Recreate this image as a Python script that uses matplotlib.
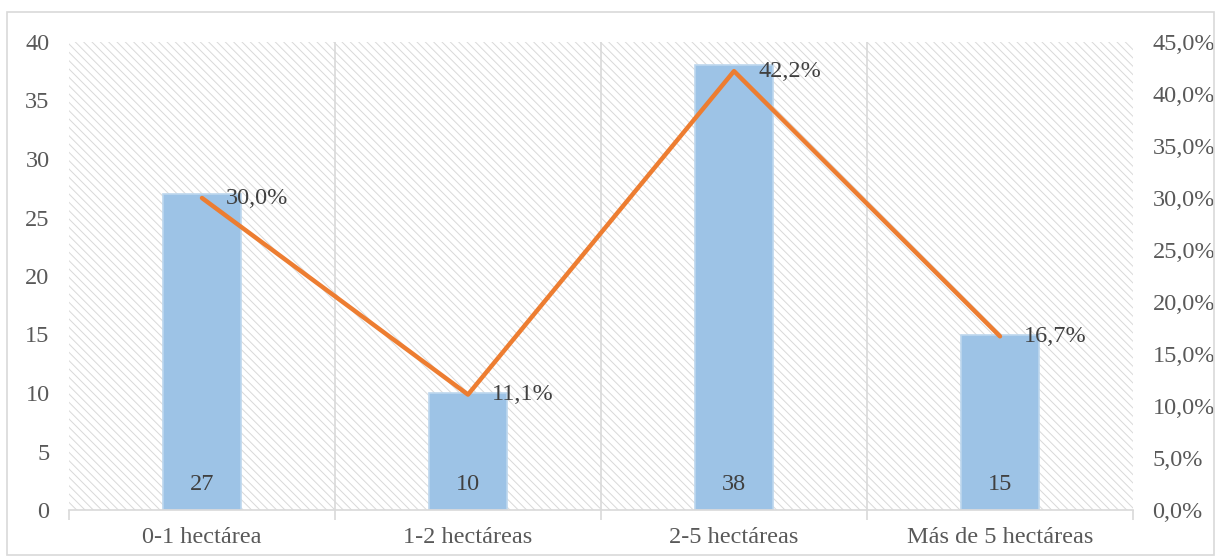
import matplotlib
matplotlib.use("Agg")
import matplotlib.pyplot as plt
from matplotlib.patches import Rectangle
from matplotlib.ticker import FixedLocator

categories = ["0-1 hectárea", "1-2 hectáreas", "2-5 hectáreas", "Más de 5 hectáreas"]
counts = [27, 10, 38, 15]
percents = [30.0, 11.1, 42.2, 16.7]
left_ticks = [0, 5, 10, 15, 20, 25, 30, 35, 40]
right_ticks = [0, 5, 10, 15, 20, 25, 30, 35, 40, 45]

plt.rcParams["font.family"] = ["Liberation Serif", "DejaVu Serif"]
plt.rcParams["hatch.color"] = "#D9D9D9"
plt.rcParams["hatch.linewidth"] = 0.7

W, H = 1219, 558
fig = plt.figure(figsize=(W / 100, H / 100), dpi=100)
fig.patch.set_facecolor("white")

# outer chart frame
fig.add_artist(Rectangle((7 / W, 3 / H), 1207 / W, 543 / H, transform=fig.transFigure,
                         fill=False, edgecolor="#D9D9D9", linewidth=1.2))

ax = fig.add_axes([69 / W, 1 - 510 / H, 1064 / W, 468 / H])
ax.set_xlim(-0.5, len(categories) - 0.5)
ax.set_ylim(0, 40)

# hatched plot-area background
ax.add_patch(Rectangle((0, 0), 1, 1, transform=ax.transAxes, facecolor="white",
                       edgecolor="#D9D9D9", hatch="\\\\\\\\", linewidth=0, zorder=0))

x = list(range(len(categories)))
ax.bar(x, counts, width=0.29, color="#9DC3E6", edgecolor="#BDD7EE", linewidth=1.2, zorder=2)

for xi, c in zip(x, counts):
    ax.annotate(str(c), (xi, 0), xytext=(0, 18), textcoords="offset points",
                ha="center", va="center", fontsize=17.5, color="#404040", zorder=5)

# category separators
for b in [0.5, 1.5, 2.5]:
    ax.axvline(b, color="#D9D9D9", linewidth=1.2, zorder=1)

for s in ["top", "right", "left"]:
    ax.spines[s].set_visible(False)
ax.spines["bottom"].set_color("#D9D9D9")
ax.spines["bottom"].set_linewidth(1.2)

ax.set_yticks(left_ticks)
ax.set_yticklabels([str(t) for t in left_ticks])
ax.tick_params(axis="y", length=0, pad=14, labelsize=17.5, labelcolor="#595959")
ax.set_xticks(x)
ax.set_xticklabels(categories)
ax.tick_params(axis="x", length=0, pad=12, labelsize=17.5, labelcolor="#595959")
ax.xaxis.set_minor_locator(FixedLocator([-0.5, 0.5, 1.5, 2.5, 3.5]))
ax.tick_params(axis="x", which="minor", length=7, color="#D9D9D9", width=1.2)

ax2 = ax.twinx()
ax2.set_ylim(0, 45)
for s in ax2.spines.values():
    s.set_visible(False)
ax2.plot(x, percents, color="#ED7D31", linewidth=3.2, solid_capstyle="round", zorder=3)
ax2.set_yticks(right_ticks)
ax2.set_yticklabels([f"{t:.1f}%".replace(".", ",") for t in right_ticks])
ax2.tick_params(axis="y", length=0, pad=14, labelsize=17.5, labelcolor="#595959")

for xi, p in zip(x, percents):
    ax2.annotate(f"{p:.1f}%".replace(".", ","), (xi, p), xytext=(17.5, 0),
                 textcoords="offset points", ha="left", va="center",
                 fontsize=17.5, color="#404040", zorder=5)

fig.savefig("out.png", dpi=100, facecolor="white")
